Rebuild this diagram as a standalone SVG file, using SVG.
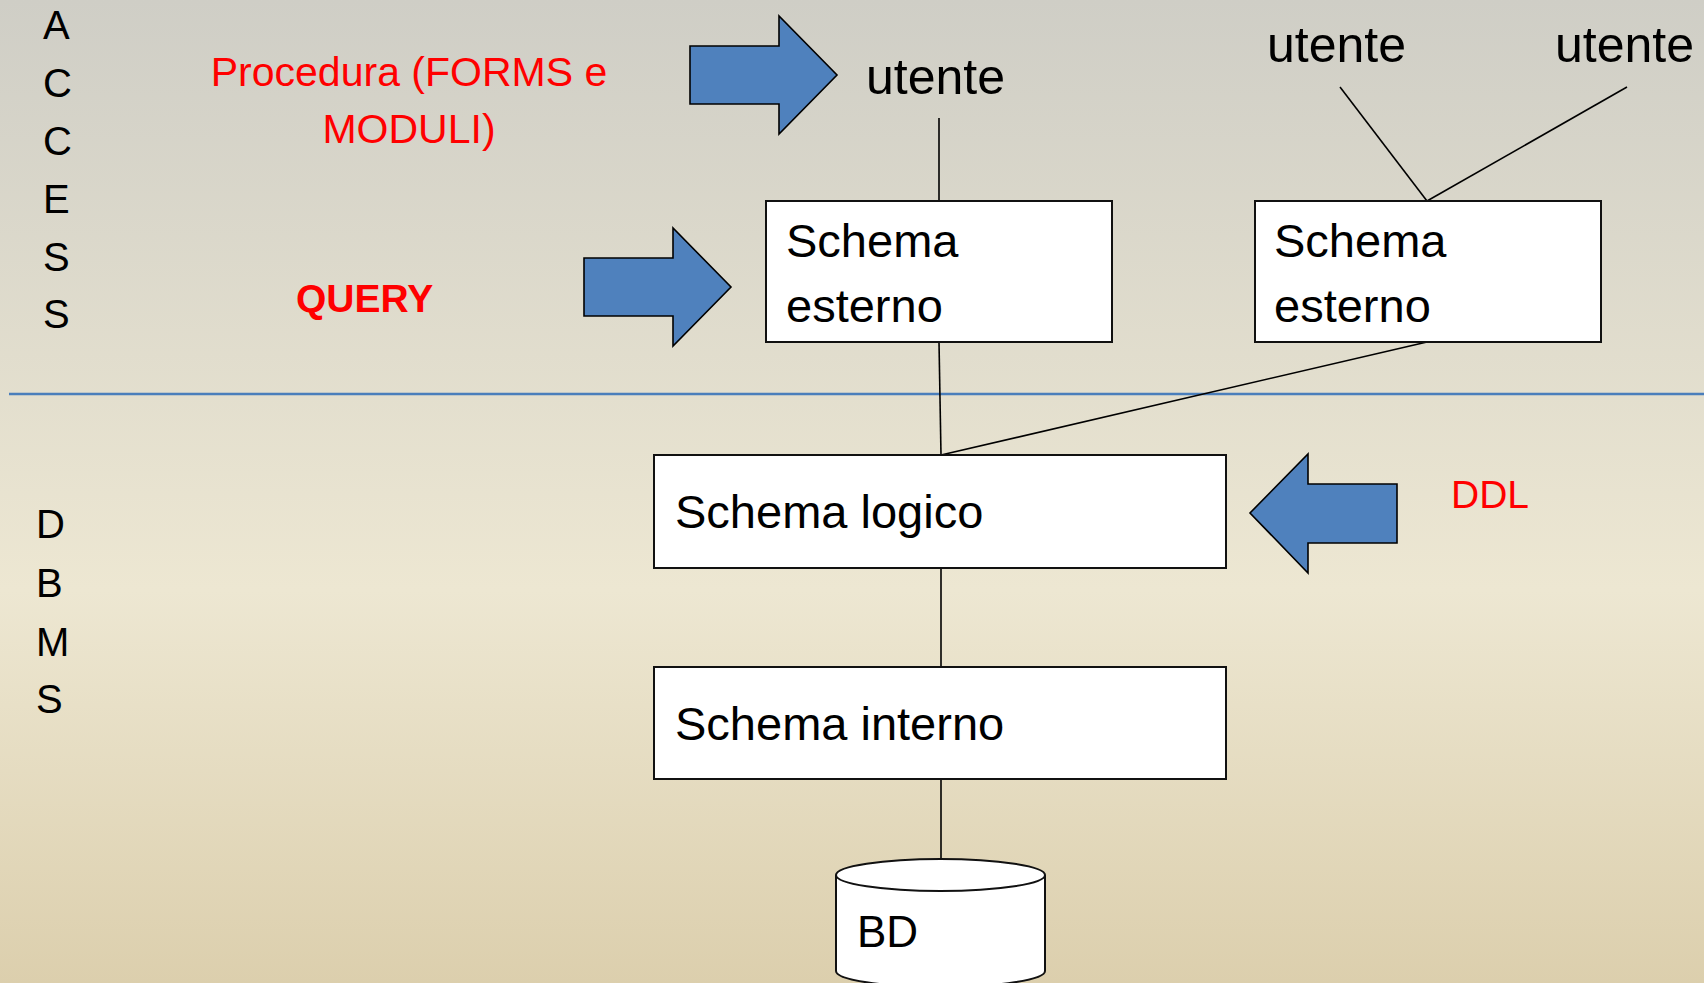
<svg xmlns="http://www.w3.org/2000/svg" width="1704" height="983" viewBox="0 0 1704 983">
<defs>
<linearGradient id="bg" x1="0" y1="0" x2="0" y2="1">
<stop offset="0" stop-color="#cfcec6"/>
<stop offset="0.6" stop-color="#ede7d2"/>
<stop offset="1" stop-color="#dccfad"/>
</linearGradient>
<style>
text{font-family:"Liberation Sans",Arial,sans-serif;fill:#000}
.lbl{font-size:40px}
.red{fill:#ff0000}
.box{fill:#fff;stroke:#111;stroke-width:2}
.arr{fill:#4f81bd;stroke:#000;stroke-width:1.6;stroke-linejoin:miter}
.ln{stroke:#000;stroke-width:1.6;fill:none}
.bt{font-size:47px}
.ut{font-size:50px}
</style>
</defs>
<rect width="1704" height="983" fill="url(#bg)"/>
<line x1="9" y1="394" x2="1704" y2="394" stroke="#4a7ebb" stroke-width="2.5"/>
<g id="access-label" class="lbl">
<text x="43" y="39">A</text>
<text x="43" y="97">C</text>
<text x="43" y="155">C</text>
<text x="43" y="213">E</text>
<text x="43" y="271">S</text>
<text x="43" y="328">S</text>
</g>
<g id="dbms-label" class="lbl">
<text x="36" y="538">D</text>
<text x="36" y="597">B</text>
<text x="36" y="656">M</text>
<text x="36" y="713">S</text>
</g>
<g id="procedura">
<text class="red" x="409" y="86" font-size="41" text-anchor="middle">Procedura (FORMS e</text>
<text class="red" x="409" y="143" font-size="41" text-anchor="middle">MODULI)</text>
</g>
<g id="query">
<text class="red" x="296" y="312" font-size="39" font-weight="bold">QUERY</text>
</g>
<g id="ddl">
<text class="red" x="1451" y="508" font-size="39">DDL</text>
</g>
<g id="connectors">
<line class="ln" x1="939" y1="118" x2="939" y2="201"/>
<line class="ln" x1="1340" y1="87" x2="1427" y2="201"/>
<line class="ln" x1="1627" y1="87" x2="1427" y2="201"/>
<line class="ln" x1="939" y1="342" x2="941" y2="455"/>
<line class="ln" x1="1427" y1="342" x2="941" y2="455"/>
<line class="ln" x1="941" y1="568" x2="941" y2="667"/>
<line class="ln" x1="941" y1="779" x2="941" y2="860"/>
</g>
<g id="arrow-procedura">
<polygon class="arr" points="690,46 779,46 779,16 837,75 779,134 779,104 690,104"/>
</g>
<g id="arrow-query">
<polygon class="arr" points="584,258 673,258 673,228 731,287 673,346 673,316 584,316"/>
</g>
<g id="arrow-ddl">
<polygon class="arr" points="1397,484 1308,484 1308,454 1250,513 1308,573 1308,543 1397,543"/>
</g>
<g id="utente1"><text class="ut" x="866" y="94">utente</text></g>
<g id="utente2"><text class="ut" x="1267" y="62">utente</text></g>
<g id="utente3"><text class="ut" x="1555" y="62">utente</text></g>
<g id="schema-esterno-1">
<rect class="box" x="766" y="201" width="346" height="141"/>
<text class="bt" x="786" y="257">Schema</text>
<text class="bt" x="786" y="322">esterno</text>
</g>
<g id="schema-esterno-2">
<rect class="box" x="1255" y="201" width="346" height="141"/>
<text class="bt" x="1274" y="257">Schema</text>
<text class="bt" x="1274" y="322">esterno</text>
</g>
<g id="schema-logico">
<rect class="box" x="654" y="455" width="572" height="113"/>
<text class="bt" x="675" y="528">Schema logico</text>
</g>
<g id="schema-interno">
<rect class="box" x="654" y="667" width="572" height="112"/>
<text class="bt" x="675" y="740">Schema interno</text>
</g>
<g id="bd">
<path d="M836,875 L836,971 A104.5,16 0 0 0 1045,971 L1045,875" fill="#fff" stroke="#111" stroke-width="2"/>
<ellipse cx="940.5" cy="875" rx="104.5" ry="16" fill="#fff" stroke="#111" stroke-width="2"/>
<text x="857" y="947" font-size="44">BD</text>
</g>
</svg>
